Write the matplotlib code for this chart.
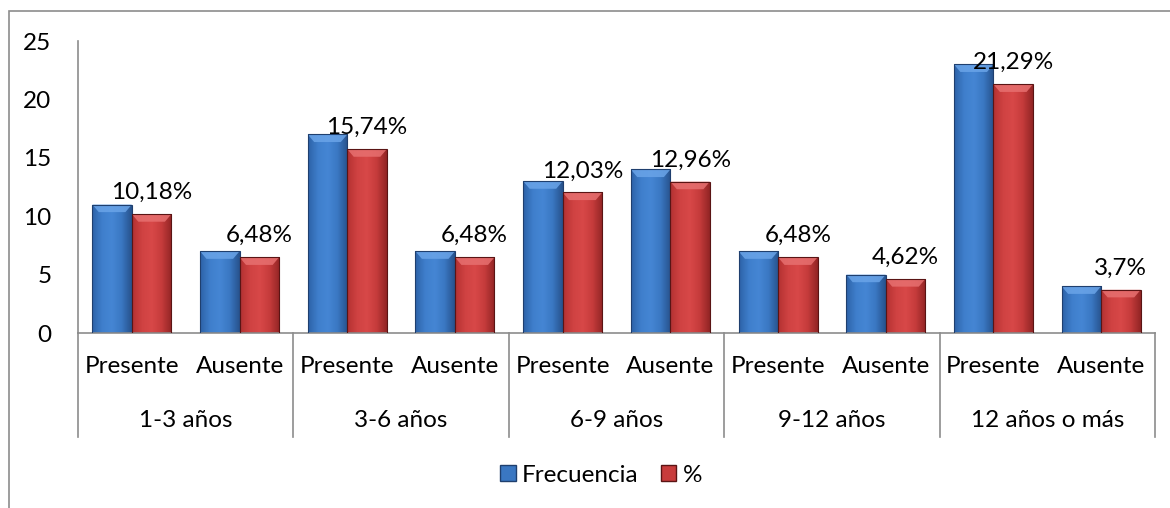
import numpy as np
import matplotlib
matplotlib.use("Agg")
import matplotlib.pyplot as plt
from matplotlib.patches import Rectangle, Polygon

plt.rcParams['font.family'] = ['Lato', 'DejaVu Sans']

groups = ["1-3 años", "3-6 años", "6-9 años", "9-12 años", "12 años o más"]
subcats = ["Presente", "Ausente"]
frecuencia = [11, 7, 17, 7, 13, 14, 7, 5, 23, 4]
porcentaje = [10.18, 6.48, 15.74, 6.48, 12.03, 12.96, 6.48, 4.62, 21.29, 3.7]
yticks = [0, 5, 10, 15, 20, 25]
series_names = ["Frecuencia", "%"]

FS = 17.5
W, H = 1170, 508
fig = plt.figure(figsize=(W / 100, H / 100), dpi=100)
fig.patch.set_facecolor("white")

# outer chart frame
fig.add_artist(Rectangle((9 / W, -0.1), 1.2, 1 - 11 / H + 0.1, transform=fig.transFigure,
                         fill=False, edgecolor="#8c8c8c", linewidth=1.2))

left, right = 78 / W, 1155 / W
bottom, top = 1 - 333 / H, 1 - 41 / H
ax = fig.add_axes([left, bottom, right - left, top - bottom])

n = len(frecuencia)
x = np.arange(n)
bw = 0.367

blue_grad = ["#2d62a8", "#3f7fcc", "#4586d4", "#3a77c2", "#27528c"]
red_grad = ["#b43131", "#cf4242", "#d84848", "#c53b3b", "#922525"]
blue_bevel = "#6aa4e8"
red_bevel = "#e77070"


def style_bars(bars, cols, bevel_col, edge):
    cmap = matplotlib.colors.LinearSegmentedColormap.from_list("g", cols)
    grad = np.linspace(0, 1, 64).reshape(1, -1)
    for b in bars:
        x0, w, h = b.get_x(), b.get_width(), b.get_height()
        im = ax.imshow(grad, extent=[x0, x0 + w, 0, h], aspect="auto", cmap=cmap,
                       zorder=2.5, interpolation="bicubic")
        im.set_clip_path(b)
        dx = 0.06
        dy = 0.65
        poly = Polygon([(x0, h), (x0 + w, h), (x0 + w - dx, h - dy), (x0 + dx, h - dy)],
                       closed=True, facecolor=bevel_col, edgecolor="none", zorder=2.6, alpha=0.85)
        ax.add_patch(poly)
        ax.add_patch(Rectangle((x0, 0), w, h, fill=False, edgecolor=edge, linewidth=0.8, zorder=2.7))


b1 = ax.bar(x - bw / 2, frecuencia, width=bw, color="#3a77c2", zorder=2)
b2 = ax.bar(x + bw / 2, porcentaje, width=bw, color="#c83c3c", zorder=2)
style_bars(b1, blue_grad, blue_bevel, "#1f3f6e")
style_bars(b2, red_grad, red_bevel, "#5a1414")

labels = [f"{v:g}".replace(".", ",") + "%" for v in porcentaje]
ax.bar_label(b2, labels=labels, padding=8, fontsize=FS, color="#000000", zorder=5)

ax.set_xlim(-0.5, n - 0.5)
ax.set_ylim(0, 25)
ax.set_yticks(yticks)
ax.set_yticklabels([str(t) for t in yticks], fontsize=FS)
ax.tick_params(axis="y", length=0, pad=19)
ax.set_xticks([])
for s in ["top", "right"]:
    ax.spines[s].set_visible(False)
ax.spines["left"].set_color("#8c8c8c")
ax.spines["bottom"].set_color("#8c8c8c")
ax.spines["left"].set_linewidth(1.2)
ax.spines["bottom"].set_linewidth(1.2)

trans = ax.get_xaxis_transform()
# sub category labels
for i in range(n):
    ax.text(x[i], -0.116, subcats[i % 2], transform=trans, ha="center", va="center", fontsize=FS)
# group labels & separators
ng = len(groups)
for g in range(ng):
    ax.text(2 * g + 0.5, -0.298, groups[g], transform=trans, ha="center", va="center", fontsize=FS)
for g in range(ng + 1):
    xs = 2 * g - 0.5
    ax.plot([xs, xs], [0, -0.356], transform=trans, color="#8c8c8c", linewidth=1.2, clip_on=False)

handles = [Rectangle((0, 0), 1, 1, facecolor="#3a77c2", edgecolor="#1f3f6e"),
           Rectangle((0, 0), 1, 1, facecolor="#c83c3c", edgecolor="#5a1414")]
fig.legend(handles, series_names, loc="center", bbox_to_anchor=(601 / W, 1 - 475 / H),
           ncol=2, frameon=False, fontsize=FS, handlelength=0.65, handleheight=0.65,
           handletextpad=0.25, columnspacing=0.9)

fig.savefig("out.png", dpi=100, facecolor="white")
